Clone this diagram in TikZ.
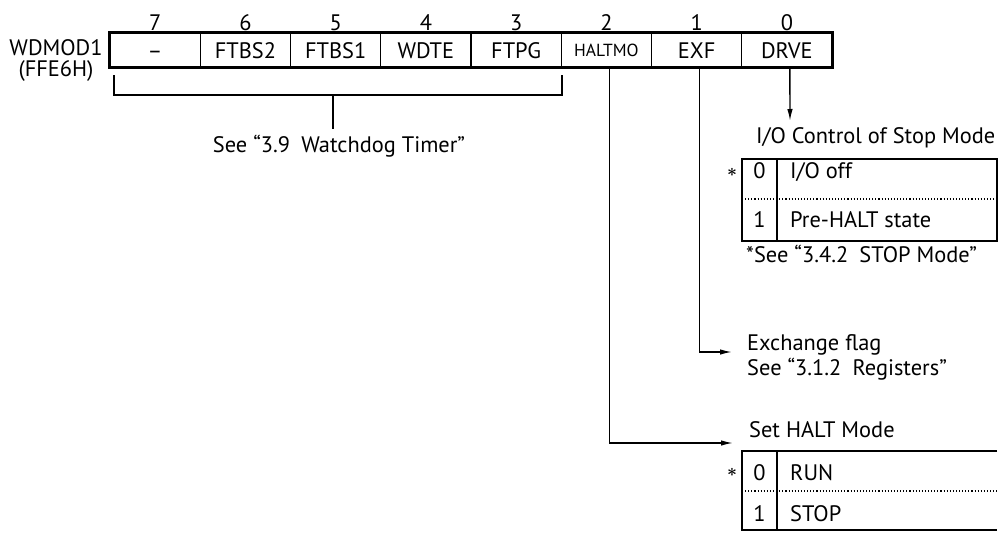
\documentclass[tikz,border=0pt]{standalone}
\usepackage{fontspec}
\setmainfont{PT Sans}
\usetikzlibrary{arrows.meta}
\begin{document}
\begin{tikzpicture}[x=1pt,y=-1pt,
  txt/.style={font=\fontsize{22.4}{26}\selectfont, inner sep=0pt},
  star/.style={font=\fontsize{17}{20}\selectfont\boldmath, inner sep=0pt},
  cell/.style={draw, line width=1.2pt, minimum width=90.25pt, minimum height=34pt,
    inner sep=0pt, text height=16pt, text depth=0pt, font=\fontsize{22.4}{26}\selectfont},
  thinline/.style={line width=1.4pt},
  frameline/.style={line width=2.4pt},
  dotline/.style={line width=1.1pt, dotted},
  arr/.style={line width=1.4pt, -{Latex[length=12pt,width=5.5pt]}}]
\useasboundingbox (0,0) rectangle (998,533);

% register cells
\node[cell] (b7) at (155.125,50) {–};
\node[cell] (b6) at (245.375,50) {FTBS2};
\node[cell] (b5) at (335.625,50) {FTBS1};
\node[cell] (b4) at (425.875,50) {WDTE};
\node[cell] (b3) at (516.125,50) {FTPG};
\node[cell, font=\fontsize{17.5}{20}\selectfont, text height=12.5pt] (b2) at (606.375,50) {HALTMO};
\node[cell] (b1) at (696.625,50) {EXF};
\node[cell] (b0) at (786.875,50) {DRVE};
\draw[frameline] (b7.north west) rectangle (b0.south east);

% bit numbers
\node[txt, anchor=base] (n7) at (155.125,30) {7};
\node[txt, anchor=base] (n6) at (245.375,30) {6};
\node[txt, anchor=base] (n5) at (335.625,30) {5};
\node[txt, anchor=base] (n4) at (425.875,30) {4};
\node[txt, anchor=base] (n3) at (516.125,30) {3};
\node[txt, anchor=base] (n2) at (606.375,30) {2};
\node[txt, anchor=base] (n1) at (696.625,30) {1};
\node[txt, anchor=base] (n0) at (786.875,30) {0};

% register name
\node[txt, anchor=base] (reg) at (56,55) {WDMOD1};
\node[txt, anchor=base] (addr) at (56,76) {(FFE6H)};

% watchdog bracket
\coordinate (bl) at (114,75);
\coordinate (blb) at (114,95);
\coordinate (brb) at (562,95);
\coordinate (br) at (562,75);
\coordinate (bm) at (333,95);
\coordinate (wdtop) at (333,129);
\draw[thinline] (bl) -- (blb) -- (brb) -- (br);
\draw[thinline] (bm) -- (wdtop);
\node[txt, anchor=base] (wd) at (339,152) {See “3.9\enspace Watchdog Timer”};

% DRVE
\coordinate (drvetip) at (790,121);
\draw[arr] ([xshift=3pt]b0.south) -- (drvetip);
\node[txt, anchor=base west] (io) at (756,143) {I/O Control of Stop Mode};
\draw[thinline] (742,159) rectangle (997,241);
\draw[thinline] (777,159) -- (777,241);
\draw[dotline] (742,199) -- (997,199);
\node[star] (s1) at (732,172) {$\ast$};
\node[txt, anchor=base] (i0) at (759.5,178) {0};
\node[txt, anchor=base west] (ioff) at (790,178) {I/O off};
\node[txt, anchor=base] (i1) at (759.5,227) {1};
\node[txt, anchor=base west] (ipre) at (790,227) {Pre-HALT state};
\node[txt, anchor=base west] (stopref) at (746,262) {*See “3.4.2\enspace STOP Mode”};

% EXF
\coordinate (exftip) at (732,352);
\draw[arr] ([xshift=3pt]b1.south) |- (exftip);
\node[txt, anchor=base west] (exf1) at (747,350) {Exchange flag};
\node[txt, anchor=base west] (exf2) at (747,375) {See “3.1.2\enspace Registers”};

% HALTMO
\coordinate (halttip) at (733,443);
\draw[arr] ([xshift=3pt]b2.south) |- (halttip);
\node[txt, anchor=base west] (halt) at (749,437) {Set HALT Mode};
\draw[thinline] (997,451) -- (742,451) -- (742,530) -- (997,530);
\draw[thinline] (777,451) -- (777,530);
\draw[dotline] (742,491) -- (997,491);
\node[star] (s2) at (732,472) {$\ast$};
\node[txt, anchor=base] (h0) at (759.5,480) {0};
\node[txt, anchor=base west] (hrun) at (790,480) {RUN};
\node[txt, anchor=base] (h1) at (759.5,521) {1};
\node[txt, anchor=base west] (hstop) at (790,521) {STOP};
\end{tikzpicture}
\end{document}
